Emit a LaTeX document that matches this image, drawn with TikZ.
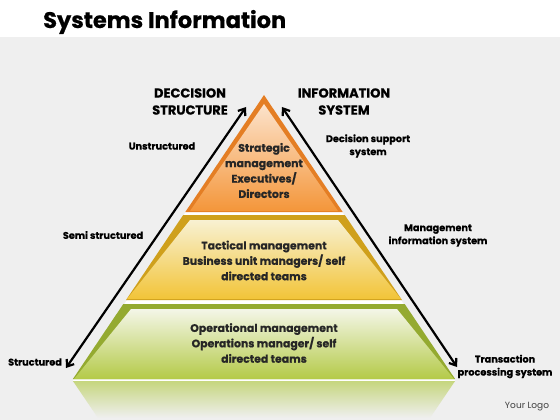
\documentclass[tikz,border=0pt]{standalone}
\usepackage{fontspec}
\setmainfont{Poppins}[BoldFeatures={FakeBold=0.6}]
\usetikzlibrary{arrows.meta}
\definecolor{bgray}{HTML}{EFEFEF}
\definecolor{orangeedge}{HTML}{E47E24}
\definecolor{orangepale}{HTML}{FCE3CC}
\definecolor{orangefull}{HTML}{F4963A}
\definecolor{yellowedge}{HTML}{CFA01C}
\definecolor{yellowpale}{HTML}{F8F1D2}
\definecolor{yellowfull}{HTML}{F2C438}
\definecolor{greenedge}{HTML}{94AA30}
\definecolor{greenpale}{HTML}{F4F6E8}
\definecolor{greenfull}{HTML}{B4CA48}
\definecolor{greenglow}{HTML}{C6D67E}
\begin{document}
\begin{tikzpicture}[x=1pt,y=-1pt,
lbl/.style={
font=\bfseries\fontsize{9.7}{13}\selectfont,
align=center,
inner sep=0pt
},
head/.style={
font=\bfseries\fontsize{13}{17}\selectfont,
align=center,
inner sep=0pt
},
tier/.style={
font=\bfseries\fontsize{10.9}{15.4}\selectfont,
align=center,
inner sep=0pt,
text=black!85
},
both/.style={{Straight Barb[length=6pt,width=9pt]}-{Straight Barb[length=6pt,width=9pt]},line width=2.2pt},
]
\useasboundingbox (0,0) rectangle (560,420);
\fill[white] (0,0) rectangle (560,420);
\fill[bgray] (0,37) rectangle (560,420);
\node (title) [anchor=base west,inner sep=0pt,font=\bfseries\fontsize{22.5}{23}\selectfont] at (43,28) {Systems Information};
% pyramid
\fill[white] (264,95) -- (455.1,381) -- (72.9,381) -- cycle;
\shade[top color=greenglow,bottom color=bgray] (72.9,381) -- (455.1,381) -- (430,418) -- (98,418) -- cycle;
\fill[orangeedge] (264,95) -- (342.7,212) -- (185.3,212) -- cycle;
\shade[top color=orangepale,middle color=orangefull,bottom color=orangefull] (264,104) -- (338,211) -- (190,211) -- cycle;
\fill[yellowedge] (183.2,215) -- (344.8,215) -- (402,300) -- (126,300) -- cycle;
\shade[top color=yellowpale,middle color=yellowfull,bottom color=yellowfull] (190,220) -- (338,220) -- (401,299) -- (127,299) -- cycle;
\fill[greenedge] (123.3,304) -- (404.7,304) -- (455.1,379) -- (72.9,379) -- cycle;
\shade[top color=greenpale,middle color=greenfull,bottom color=greenfull] (131,309) -- (397,309) -- (454,379) -- (74,379) -- cycle;
\node (strat) [tier] at (264,170.5) {Strategic\\management\\Executives/\\Directors};
\node (tact) [tier] at (264,260.5) {Tactical management\\Business unit managers/ self\\directed teams};
\node (oper) [tier] at (264,343) {Operational management\\Operations manager/ self\\directed teams};
% arrows
\coordinate (lt) at (246,107);
\coordinate (lb) at (66,368);
\coordinate (rt) at (282,107);
\coordinate (rb) at (457,367);
\draw[both] (lb) -- (lt);
\draw[both] (rb) -- (rt);
\node (dec) [head] at (190,101.5) {DECCISION\\STRUCTURE};
\node (info) [head] at (344,101.5) {INFORMATION\\SYSTEM};
\node (unstr) [lbl] at (162,146) {Unstructured};
\node (semi) [lbl] at (103,235) {Semi structured};
\node (struct) [lbl] at (35,362) {Structured};
\node (dss) [lbl] at (368,146) {Decision support\\system};
\node (mis) [lbl] at (438,235.5) {Management\\information system};
\node (tps) [lbl] at (505,366.5) {Transaction\\processing system};
\node (logo) [inner sep=0pt,font=\fontsize{9}{9}\selectfont,text=black!75] at (527,407) {Your Logo};
\end{tikzpicture}
\end{document}
